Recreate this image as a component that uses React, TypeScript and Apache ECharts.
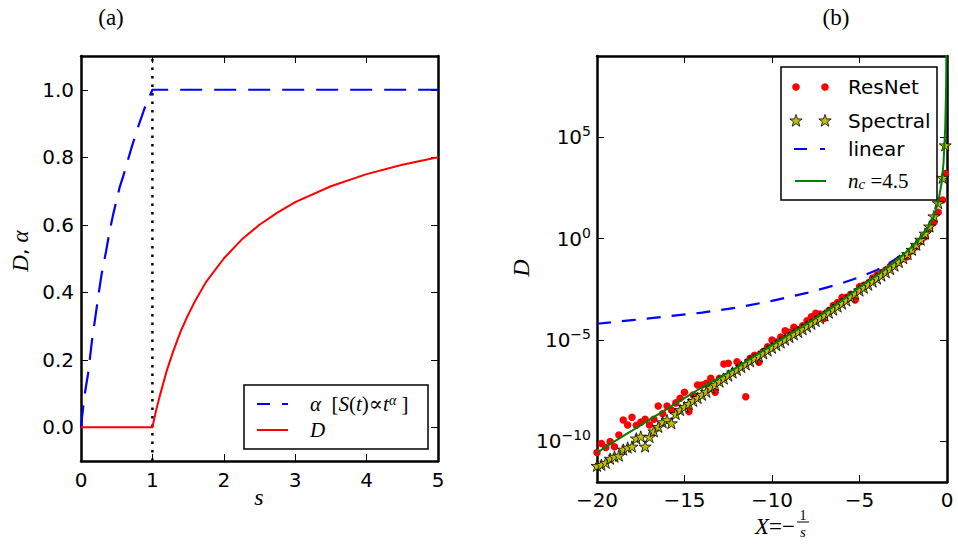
import React, { useEffect, useRef } from 'react';
import * as echarts from 'echarts';

// ---------- Panel (a) data ----------
const sTicks = [0, 1, 2, 3, 4, 5];
const leftYTicks = [0, 0.2, 0.4, 0.6, 0.8, 1.0];
const sAlpha = [0, 0.02, 0.05, 0.1, 0.15, 0.19, 0.25, 0.29, 0.35, 0.4, 0.45, 0.54, 0.6, 0.71, 0.8, 0.89, 0.95, 1, 5];
const alphaVals = [0, 0.04, 0.095, 0.16, 0.25, 0.31, 0.4, 0.455, 0.52, 0.58, 0.63, 0.71, 0.75, 0.83, 0.89, 0.945, 0.975, 1, 1];
const sD = [0, 1, 1.05, 1.1, 1.2, 1.3, 1.4, 1.5, 1.6, 1.75, 2, 2.25, 2.5, 2.75, 3, 3.5, 4, 4.5, 5];
const dVals = [0, 0, 0.048, 0.09, 0.167, 0.23, 0.286, 0.333, 0.375, 0.43, 0.5, 0.556, 0.6, 0.636, 0.667, 0.714, 0.75, 0.778, 0.8];
const vLineS = [1, 1];
const vLineY = [-0.1, 1.1];

// ---------- Panel (b) data (log10 of D) ----------
const xTicksB = [-20, -15, -10, -5, 0];
const rightYTicks = [1e-10, 1e-5, 1, 1e5];
const xGrid = [-20, -19.75, -19.5, -19.25, -19, -18.75, -18.5, -18.25, -18, -17.75, -17.5, -17.25, -17, -16.75, -16.5, -16.25, -16, -15.75, -15.5, -15.25, -15, -14.75, -14.5, -14.25, -14, -13.75, -13.5, -13.25, -13, -12.75, -12.5, -12.25, -12, -11.75, -11.5, -11.25, -11, -10.75, -10.5, -10.25, -10, -9.75, -9.5, -9.25, -9, -8.75, -8.5, -8.25, -8, -7.75, -7.5, -7.25, -7, -6.75, -6.5, -6.25, -6, -5.75, -5.5, -5.25, -5, -4.75, -4.5, -4.25, -4, -3.75, -3.5, -3.25, -3, -2.75, -2.5, -2.25, -2, -1.75, -1.5, -1.25, -1, -0.75, -0.5, -0.25, -0.1];
const spectralLog = [-11.2, -11.15, -11.05, -10.85, -10.75, -10.7, -10.4, -10.3, -10.25, -9.85, -9.76, -10.25, -9.78, -9.5, -9.28, -9.05, -8.95, -9.1, -8.65, -8.45, -8.3, -8.15, -8.0, -7.85, -7.7, -7.55, -7.35, -7.22, -7.05, -6.9, -6.75, -6.6, -6.47, -6.33, -6.2, -6.05, -5.92, -5.8, -5.66, -5.52, -5.38, -5.25, -5.12, -4.98, -4.85, -4.72, -4.6, -4.47, -4.33, -4.2, -4.06, -3.93, -3.79, -3.65, -3.5, -3.35, -3.2, -3.05, -2.88, -2.72, -2.56, -2.42, -2.27, -2.12, -1.97, -1.82, -1.66, -1.5, -1.33, -1.15, -0.96, -0.76, -0.55, -0.3, -0.05, 0.25, 0.6, 1.1, 1.75, 3.0, 4.6];
const resnetLog = [-10.55, -10.1, -10.3, -10.0, -10.26, -9.68, -8.94, -9.19, -8.81, -9.2, -9.05, -8.91, -9.19, -8.91, -8.25, -8.64, -8.25, -8.45, -8.1, -7.87, -7.58, -8.53, -7.71, -7.22, -7.22, -7.13, -6.89, -7.57, -6.89, -6.18, -6.15, -6.6, -6.07, -6.3, -7.8, -5.9, -5.75, -6.1, -5.57, -5.33, -5.0, -5.1, -4.85, -4.54, -4.62, -4.37, -4.5, -4.3, -4.05, -3.85, -3.68, -3.72, -3.93, -3.55, -3.3, -3.15, -2.9, -2.9, -2.75, -3.03, -2.37, -2.3, -2.2, -1.94, -1.79, -1.68, -1.55, -1.38, -1.3, -1.1, -0.98, -0.89, -0.6, -0.4, -0.15, 0.09, 0.5, 0.8, 1.3, 1.9, 3.2];
const xLinear = [-20, -18, -16, -14, -12, -10, -8, -6, -5, -4, -3, -2.5];
const linearLog = [-4.2, -4.02, -3.84, -3.65, -3.4, -3.07, -2.68, -2.2, -1.9, -1.55, -1.05, -0.72];
const xFit = [-20, -19, -18, -17, -16, -15, -14, -13, -12, -11, -10, -9, -8, -7, -6, -5, -4, -3, -2.5, -2, -1.5, -1, -0.75, -0.5, -0.3, -0.2, -0.1, -0.05, -0.03];
const fitLog = [-10.55, -10.0, -9.47, -8.93, -8.4, -7.87, -7.33, -6.85, -6.35, -5.8, -5.25, -4.72, -4.2, -3.65, -3.05, -2.4, -1.8, -1.15, -0.78, -0.4, 0.05, 0.65, 1.1, 1.8, 2.8, 3.7, 5.5, 7.5, 9.5];

const SANS = "'DejaVu Sans', sans-serif";
const SERIF = "'Liberation Serif', 'DejaVu Serif', serif";
const STAR_PATH = 'path://M50,0 L61.2,34.5 L97.6,34.5 L68.2,55.9 L79.4,90.5 L50,69.1 L20.6,90.5 L31.8,55.9 L2.4,34.5 L38.8,34.5 Z';

const pairs = (xs: number[], ys: number[]) => xs.map((x, i) => [x, ys[i]]);
const pairsLog = (xs: number[], ys: number[]) => xs.map((x, i) => [x, Math.pow(10, ys[i])]);

function starPoints(cx: number, cy: number, r: number) {
  const pts: number[][] = [];
  for (let k = 0; k < 10; k++) {
    const rr = k % 2 === 0 ? r : r * 0.4;
    const a = -Math.PI / 2 + (k * Math.PI) / 5;
    pts.push([cx + rr * Math.cos(a), cy + rr * Math.sin(a)]);
  }
  return pts;
}

const frame = { show: true, onZero: false, lineStyle: { color: '#000', width: 2.5 } };
const ticks = (custom?: number[]) => ({
  show: true,
  inside: true,
  length: 7,
  lineStyle: { color: '#000', width: 1 },
  ...(custom ? { customValues: custom } : {}),
});
const tickFont = { fontSize: 20, color: '#000', fontFamily: SANS, lineHeight: 22 };

export default function App() {
  const ref = useRef<HTMLDivElement>(null);
  useEffect(() => {
    if (!ref.current) return;
    const chart = echarts.init(ref.current, undefined, { renderer: 'svg' });
    const supRich = {
      b: { fontSize: 20, fontFamily: SANS, color: '#000', lineHeight: 26 },
      s: { fontSize: 14, fontFamily: SANS, color: '#000', lineHeight: 12, verticalAlign: 'top' },
    };
    const mathRich = {
      i: { fontSize: 21, fontFamily: SERIF, fontStyle: 'italic', color: '#000' },
      r: { fontSize: 21, fontFamily: SERIF, color: '#000' },
      sup: { fontSize: 14, fontFamily: SERIF, fontStyle: 'italic', color: '#000', verticalAlign: 'top', lineHeight: 10 },
      sub: { fontSize: 15, fontFamily: SERIF, fontStyle: 'italic', color: '#000', verticalAlign: 'bottom', lineHeight: 12 },
    };
    const option: any = {
      animation: false,
      backgroundColor: '#fff',
      grid: [
        { left: 81, top: 56, width: 357, height: 405 },
        { left: 597, top: 56, width: 350, height: 426 },
      ],
      xAxis: [
        {
          gridIndex: 0, type: 'value', min: 0, max: 5, interval: 1, position: 'bottom',
          axisLine: frame, axisTick: ticks(sTicks), splitLine: { show: false },
          axisLabel: { ...tickFont, margin: 8, customValues: sTicks, formatter: (v: number) => String(v) },
        },
        {
          gridIndex: 0, type: 'value', min: 0, max: 5, interval: 1, position: 'top',
          axisLine: frame, axisTick: ticks(sTicks), splitLine: { show: false }, axisLabel: { show: false },
        },
        {
          gridIndex: 1, type: 'value', min: -20, max: 0, interval: 5, position: 'bottom',
          axisLine: frame, axisTick: ticks(xTicksB), splitLine: { show: false },
          axisLabel: { ...tickFont, margin: 7, customValues: xTicksB, formatter: (v: number) => (v < 0 ? '\u2212' + Math.abs(v) : String(v)) },
        },
        {
          gridIndex: 1, type: 'value', min: -20, max: 0, interval: 5, position: 'top',
          axisLine: frame, axisTick: ticks(xTicksB), splitLine: { show: false }, axisLabel: { show: false },
        },
      ],
      yAxis: [
        {
          gridIndex: 0, type: 'value', min: -0.1, max: 1.1, position: 'left',
          axisLine: frame, axisTick: ticks(leftYTicks), splitLine: { show: false },
          axisLabel: { ...tickFont, margin: 7, customValues: leftYTicks, formatter: (v: number) => v.toFixed(1) },
        },
        {
          gridIndex: 0, type: 'value', min: -0.1, max: 1.1, position: 'right',
          axisLine: frame, axisTick: ticks(leftYTicks), splitLine: { show: false }, axisLabel: { show: false },
        },
        {
          gridIndex: 1, type: 'log', logBase: 10, min: 1e-12, max: 1e9, position: 'left',
          axisLine: frame, axisTick: ticks(rightYTicks), splitLine: { show: false }, minorTick: { show: false },
          axisLabel: {
            margin: 6, customValues: rightYTicks, rich: supRich,
            formatter: (v: number) => {
              const e = Math.round(Math.log10(v));
              return '{b|10}{s|' + (e < 0 ? '\u2212' + Math.abs(e) : String(e)) + '}';
            },
          },
        },
        {
          gridIndex: 1, type: 'log', logBase: 10, min: 1e-12, max: 1e9, position: 'right',
          axisLine: frame, axisTick: ticks(rightYTicks), splitLine: { show: false }, axisLabel: { show: false },
        },
      ],
      series: [
        {
          type: 'line', xAxisIndex: 0, yAxisIndex: 0, data: pairs(vLineS, vLineY), symbol: 'none', z: 3,
          lineStyle: { color: '#000', width: 2.5, type: [2.5, 6] },
        },
        {
          name: 'alpha', type: 'line', xAxisIndex: 0, yAxisIndex: 0, data: pairs(sAlpha, alphaVals), symbol: 'none', z: 4,
          lineStyle: { color: '#0000ff', width: 2.2, type: [22, 12] },
        },
        {
          name: 'D', type: 'line', xAxisIndex: 0, yAxisIndex: 0, data: pairs(sD, dVals), symbol: 'none', z: 5,
          lineStyle: { color: '#ff0000', width: 2 },
        },
        {
          name: 'linear', type: 'line', xAxisIndex: 2, yAxisIndex: 2, data: pairsLog(xLinear, linearLog), symbol: 'none', z: 2,
          lineStyle: { color: '#0000ff', width: 2.2, type: [14, 11] },
        },
        {
          name: 'ResNet', type: 'scatter', xAxisIndex: 2, yAxisIndex: 2, data: pairsLog(xGrid, resnetLog), z: 3,
          symbol: 'circle', symbolSize: 7.5, itemStyle: { color: '#ff0000', opacity: 1 },
        },
        {
          name: 'Spectral', type: 'scatter', xAxisIndex: 2, yAxisIndex: 2, data: pairsLog(xGrid, spectralLog), z: 4,
          symbol: STAR_PATH, symbolSize: 12, symbolKeepAspect: true,
          itemStyle: { color: '#bfbf00', borderColor: '#000', borderWidth: 0.8, opacity: 1 },
        },
        {
          name: 'fit', type: 'line', xAxisIndex: 2, yAxisIndex: 2, data: pairsLog(xFit, fitLog), symbol: 'none', z: 5,
          lineStyle: { color: '#008000', width: 2 },
        },
      ],
      graphic: [
        // titles
        { type: 'text', x: 111, y: 17, style: { text: '(a)', font: `23px ${SERIF}`, fill: '#000', align: 'center', verticalAlign: 'middle' } },
        { type: 'text', x: 836, y: 17, style: { text: '(b)', font: `23px ${SERIF}`, fill: '#000', align: 'center', verticalAlign: 'middle' } },
        // axis names
        {
          type: 'text', x: 20, y: 251, rotation: Math.PI / 2,
          style: {
            text: '{i|D}{c|, }{i|\u03b1}', align: 'center', verticalAlign: 'middle',
            rich: { i: { fontSize: 23, fontFamily: SERIF, fontStyle: 'italic', fill: '#000' }, c: { fontSize: 20, fontFamily: SANS, fill: '#000' } },
          },
        },
        { type: 'text', x: 259, y: 497, style: { text: 's', font: `italic 24px ${SERIF}`, fill: '#000', align: 'center', verticalAlign: 'middle' } },
        { type: 'text', x: 521, y: 268, rotation: Math.PI / 2, style: { text: 'D', font: `italic 24px ${SERIF}`, fill: '#000', align: 'center', verticalAlign: 'middle' } },
        {
          type: 'text', x: 795, y: 526,
          style: {
            text: '{i|X}{r|=\u2212}', align: 'right', verticalAlign: 'middle',
            rich: {
              i: { fontSize: 23, fontFamily: SERIF, fontStyle: 'italic', fill: '#000', lineHeight: 18 },
              r: { fontSize: 23, fontFamily: SERIF, fill: '#000', lineHeight: 18 },
            },
          },
        },
        { type: 'text', x: 803, y: 515, style: { text: '1', font: `14px ${SERIF}`, fill: '#000', align: 'center', verticalAlign: 'middle', lineHeight: 12 } },
        { type: 'line', shape: { x1: 797, y1: 522, x2: 809, y2: 522 }, style: { stroke: '#000', lineWidth: 1 } },
        { type: 'text', x: 803, y: 532, style: { text: 's', font: `italic 15px ${SERIF}`, fill: '#000', align: 'center', verticalAlign: 'middle', lineHeight: 12 } },
        // legend (a)
        {
          type: 'group', z: 100,
          children: [
            { type: 'rect', shape: { x: 244, y: 385, width: 184, height: 64 }, style: { fill: '#fff', stroke: '#000', lineWidth: 1.5 } },
            { type: 'line', shape: { x1: 257, y1: 404, x2: 288, y2: 404 }, style: { stroke: '#0000ff', lineWidth: 2.2, lineDash: [13, 12] } },
            {
              type: 'text', x: 310, y: 404,
              style: { text: '{i|\u03b1}{r|  [}{i|S}{r|(}{i|t}{r|)\u221d}{i|t}{sup|\u03b1}{r| ]}', verticalAlign: 'middle', rich: mathRich },
            },
            { type: 'line', shape: { x1: 257, y1: 430, x2: 288, y2: 430 }, style: { stroke: '#ff0000', lineWidth: 2 } },
            { type: 'text', x: 310, y: 430, style: { text: 'D', font: `italic 21px ${SERIF}`, fill: '#000', verticalAlign: 'middle' } },
          ],
        },
        // legend (b)
        {
          type: 'group', z: 100,
          children: [
            { type: 'rect', shape: { x: 781, y: 67, width: 156, height: 133 }, style: { fill: '#fff', stroke: '#000', lineWidth: 1.5 } },
            { type: 'circle', shape: { cx: 796, cy: 87, r: 3.8 }, style: { fill: '#ff0000' } },
            { type: 'circle', shape: { cx: 825, cy: 87, r: 3.8 }, style: { fill: '#ff0000' } },
            { type: 'polygon', shape: { points: starPoints(796, 121, 6.5) }, style: { fill: '#bfbf00', stroke: '#000', lineWidth: 0.8 } },
            { type: 'polygon', shape: { points: starPoints(825, 121, 6.5) }, style: { fill: '#bfbf00', stroke: '#000', lineWidth: 0.8 } },
            { type: 'line', shape: { x1: 794, y1: 149, x2: 825, y2: 149 }, style: { stroke: '#0000ff', lineWidth: 2.2, lineDash: [13, 13] } },
            { type: 'line', shape: { x1: 795, y1: 181, x2: 826, y2: 181 }, style: { stroke: '#008000', lineWidth: 2 } },
            { type: 'text', x: 848, y: 87, style: { text: 'ResNet', font: `20px ${SANS}`, fill: '#000', verticalAlign: 'middle' } },
            { type: 'text', x: 848, y: 121, style: { text: 'Spectral', font: `20px ${SANS}`, fill: '#000', verticalAlign: 'middle' } },
            { type: 'text', x: 848, y: 149, style: { text: 'linear', font: `20px ${SANS}`, fill: '#000', verticalAlign: 'middle' } },
            {
              type: 'text', x: 848, y: 181,
              style: { text: '{i|n}{sub|c}{r| =4.5}', verticalAlign: 'middle', rich: mathRich },
            },
          ],
        },
      ],
    };
    chart.setOption(option);
    return () => chart.dispose();
  }, []);
  return <div ref={ref} style={{ position: 'absolute', left: 0, top: 0, width: 958, height: 546, background: '#fff' }} />;
}
